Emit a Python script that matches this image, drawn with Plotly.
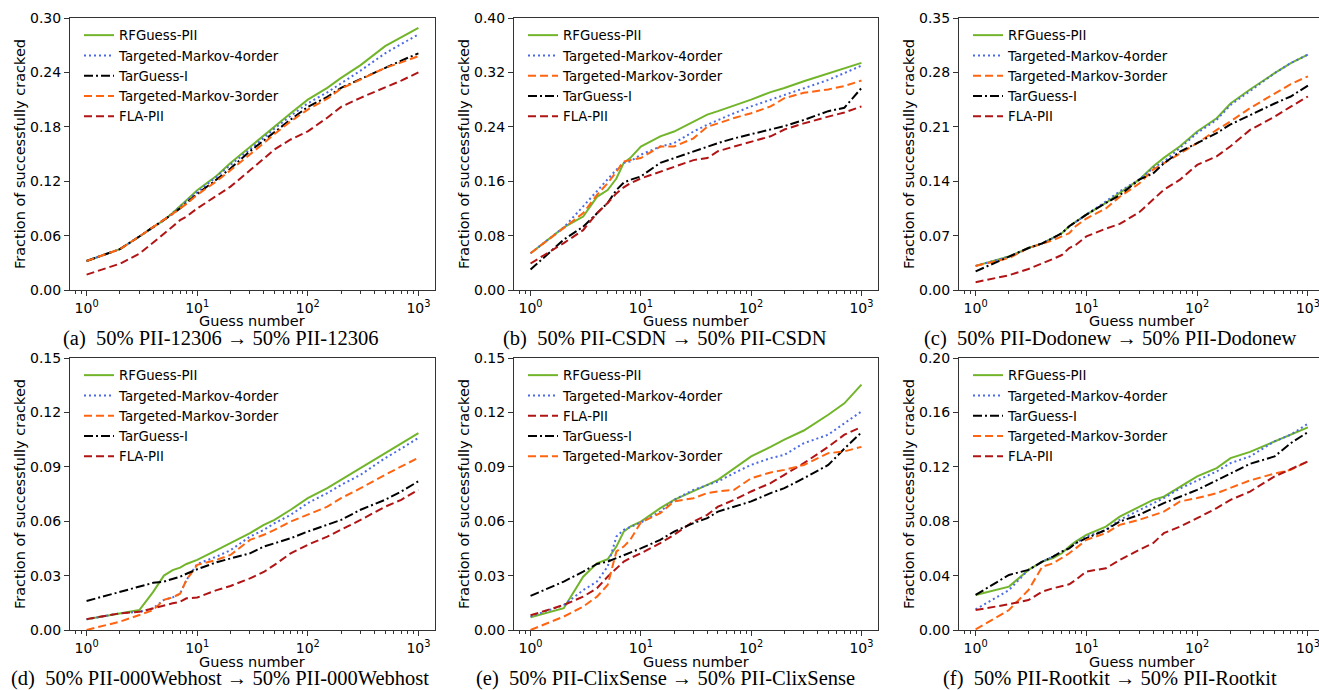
import plotly.graph_objects as go

W, H = 1319, 690

# Guess numbers (shared by all panels)
guess_numbers = [1, 2, 3, 4, 5, 6, 7, 8, 10, 15, 20, 30, 40, 50, 70, 100, 150, 200, 300, 500, 700, 1000]

# (a) PII-12306
a_rf  = [.032, .045, .059, .069, .077, .085, .092, .099, .110, .126, .140, .158, .170, .180, .195, .210, .223, .234, .248, .269, .279, .289]
a_tm4 = [.032, .045, .059, .069, .077, .085, .092, .098, .108, .125, .138, .155, .168, .178, .192, .206, .218, .228, .242, .261, .271, .282]
a_tg  = [.032, .045, .059, .069, .077, .084, .090, .096, .106, .122, .134, .153, .165, .175, .188, .202, .213, .223, .233, .245, .253, .261]
a_tm3 = [.032, .045, .059, .069, .077, .084, .090, .095, .105, .120, .132, .149, .162, .172, .186, .199, .211, .222, .232, .245, .251, .258]
a_fla = [.017, .029, .040, .052, .062, .070, .077, .081, .090, .104, .114, .132, .145, .155, .166, .175, .190, .202, .212, .223, .231, .240]

# (b) PII-CSDN
b_rf  = [.054, .092, .108, .137, .147, .164, .187, .194, .211, .226, .233, .248, .258, .263, .271, .280, .291, .297, .307, .318, .326, .334]
b_tm4 = [.054, .092, .123, .145, .162, .177, .187, .189, .199, .211, .216, .233, .243, .250, .260, .270, .280, .287, .297, .309, .319, .330]
b_tm3 = [.054, .092, .113, .140, .157, .174, .189, .191, .194, .211, .211, .223, .240, .245, .253, .260, .270, .282, .290, .295, .300, .308]
b_tg  = [.030, .074, .093, .113, .128, .147, .158, .162, .167, .187, .194, .204, .211, .216, .223, .229, .236, .241, .250, .263, .268, .297]
b_fla = [.039, .069, .088, .113, .128, .142, .151, .157, .164, .174, .182, .191, .194, .204, .211, .218, .226, .236, .245, .255, .261, .270]

# (c) PII-Dodonew
c_rf  = [.031, .043, .054, .060, .067, .073, .082, .088, .097, .112, .125, .142, .159, .170, .185, .204, .221, .240, .258, .279, .292, .303]
c_tm4 = [.031, .043, .054, .060, .067, .073, .082, .088, .097, .114, .127, .142, .157, .165, .183, .202, .219, .238, .256, .279, .292, .303]
c_tm3 = [.031, .041, .054, .060, .064, .069, .073, .082, .092, .105, .120, .137, .155, .163, .176, .189, .206, .217, .234, .253, .265, .275]
c_tg  = [.024, .043, .054, .060, .067, .073, .082, .088, .097, .112, .122, .142, .150, .163, .178, .189, .202, .213, .225, .240, .249, .263]
c_fla = [.010, .019, .027, .034, .040, .045, .054, .058, .069, .079, .085, .100, .116, .129, .142, .161, .172, .185, .206, .223, .236, .249]

# (d) PII-000Webhost
d_rf  = [.0059, .0092, .011, .021, .030, .033, .0344, .0364, .0387, .044, .0479, .0534, .058, .0607, .0663, .0727, .0782, .0828, .0893, .0975, .103, .1086]
d_tm4 = [.0059, .0092, .010, .012, .0166, .018, .020, .0276, .0364, .0405, .044, .0515, .0552, .0589, .0635, .070, .0755, .080, .0856, .0948, .100, .106]
d_tm3 = [.0, .0046, .0083, .011, .0166, .018, .020, .0276, .0359, .0387, .0414, .0497, .0525, .0552, .0598, .0635, .068, .0727, .0782, .0856, .090, .095]
d_tg  = [.016, .021, .024, .026, .0267, .028, .0294, .031, .0335, .0374, .0396, .0423, .046, .0479, .0506, .0543, .058, .0607, .0663, .0718, .0764, .082]
d_fla = [.006, .0092, .010, .012, .0138, .0147, .0156, .0175, .0179, .022, .0243, .0285, .032, .0359, .0423, .047, .0515, .0552, .0607, .068, .0718, .0773]

# (e) PII-ClixSense
e_rf  = [.007, .012, .0294, .0368, .039, .046, .0543, .057, .0598, .0672, .0718, .0764, .080, .0828, .0893, .0957, .101, .105, .110, .1187, .125, .1353]
e_tm4 = [.0074, .0138, .022, .0267, .035, .0515, .0552, .0567, .0593, .0653, .0718, .0773, .080, .0819, .0865, .0911, .0948, .0966, .103, .1077, .114, .1205]
e_fla = [.0081, .0138, .0184, .023, .0294, .034, .0377, .0396, .0423, .0479, .0525, .0598, .0635, .068, .0718, .0764, .081, .0856, .092, .101, .1077, .112]
e_tg  = [.0188, .0267, .0322, .0364, .0377, .0396, .0414, .0427, .045, .0497, .0543, .0589, .0617, .0653, .068, .0709, .0755, .0782, .0837, .091, .100, .109]
e_tm3 = [.0, .0074, .0129, .0184, .0248, .0433, .046, .0497, .0593, .0644, .0709, .0727, .0755, .0764, .0773, .0837, .0869, .0883, .091, .0975, .0985, .101]

# (f) PII-Rootkit
f_rf  = [.0258, .0319, .0442, .0503, .0528, .0564, .0613, .065, .070, .076, .0834, .0908, .0957, .098, .1055, .113, .119, .1264, .131, .1387, .1436, .149]
f_tm4 = [.0152, .0294, .0442, .0503, .054, .0577, .060, .0638, .0687, .0736, .081, .0883, .0933, .097, .104, .110, .1166, .1227, .1276, .1387, .1436, .1517]
f_tg  = [.0258, .0405, .0442, .0503, .054, .0577, .060, .0638, .0675, .0736, .0798, .0847, .0896, .0933, .098, .103, .110, .1153, .1222, .1276, .1374, .1455]
f_tm3 = [.0005, .0147, .0294, .0466, .049, .0528, .0564, .060, .0663, .0712, .0773, .081, .0847, .087, .0945, .097, .1006, .1043, .110, .115, .1178, .124]
f_fla = [.0147, .0189, .022, .0282, .0307, .0324, .0336, .0368, .043, .0454, .0515, .0589, .0638, .0712, .076, .0822, .0896, .0957, .1018, .1129, .118, .124]

y_maxes = [0.30, 0.40, 0.35, 0.15, 0.15, 0.20]
y_dticks = [0.06, 0.08, 0.07, 0.03, 0.03, 0.04]
x_tickvals = [1, 10, 100, 1000]
x_ticktext = ["10<sup>0</sup>", "10<sup>1</sup>", "10<sup>2</sup>", "10<sup>3</sup>"]
x_minor = [0.8, 0.9] + [m * 10 ** k for k in range(3) for m in range(2, 10)]
x_title = "Guess number"
y_title = "Fraction of successfully cracked"

captions = [
    "(a)\u00a0\u00a050% PII-12306 \u2192 50% PII-12306",
    "(b)\u00a0\u00a050% PII-CSDN \u2192 50% PII-CSDN",
    "(c)\u00a0\u00a050% PII-Dodonew \u2192 50% PII-Dodonew",
    "(d)\u00a0\u00a050% PII-000Webhost \u2192 50% PII-000Webhost",
    "(e)\u00a0\u00a050% PII-ClixSense \u2192 50% PII-ClixSense",
    "(f)\u00a0\u00a050% PII-Rootkit \u2192 50% PII-Rootkit",
]

STY = {
    "RFGuess-PII": dict(color="#72b52b", dash="solid"),
    "Targeted-Markov-4order": dict(color="#4b6be6", dash="2px,3px"),
    "TarGuess-I": dict(color="#000000", dash="9px,3px,2px,3px"),
    "Targeted-Markov-3order": dict(color="#ff6410", dash="8px,4px"),
    "FLA-PII": dict(color="#b01414", dash="8px,4px"),
}

panels = [
    [("RFGuess-PII", a_rf), ("Targeted-Markov-4order", a_tm4), ("TarGuess-I", a_tg), ("Targeted-Markov-3order", a_tm3), ("FLA-PII", a_fla)],
    [("RFGuess-PII", b_rf), ("Targeted-Markov-4order", b_tm4), ("Targeted-Markov-3order", b_tm3), ("TarGuess-I", b_tg), ("FLA-PII", b_fla)],
    [("RFGuess-PII", c_rf), ("Targeted-Markov-4order", c_tm4), ("Targeted-Markov-3order", c_tm3), ("TarGuess-I", c_tg), ("FLA-PII", c_fla)],
    [("RFGuess-PII", d_rf), ("Targeted-Markov-4order", d_tm4), ("Targeted-Markov-3order", d_tm3), ("TarGuess-I", d_tg), ("FLA-PII", d_fla)],
    [("RFGuess-PII", e_rf), ("Targeted-Markov-4order", e_tm4), ("FLA-PII", e_fla), ("TarGuess-I", e_tg), ("Targeted-Markov-3order", e_tm3)],
    [("RFGuess-PII", f_rf), ("Targeted-Markov-4order", f_tm4), ("TarGuess-I", f_tg), ("Targeted-Markov-3order", f_tm3), ("FLA-PII", f_fla)],
]

# layout geometry (pixels)
x_left = [70, 514, 959]
x_right = [435, 878, 1319]
x_range_hi = [3.15, 3.15, 3.10]
y_top = [18, 358]
y_bot = [290, 630]
cap_x = [220, 665, 1110]
xt_x = [252, 696, 1142]

fig = go.Figure()
layout = dict(
    width=W, height=H, margin=dict(l=0, r=0, t=0, b=0, autoexpand=False),
    paper_bgcolor="white", plot_bgcolor="white", showlegend=True,
    font=dict(family="DejaVu Sans", color="#000"),
)
annotations = []
axis_col = "#333333"
for i, series in enumerate(panels):
    r, c = divmod(i, 3)
    n = i + 1
    xa = "x" if n == 1 else f"x{n}"
    ya = "y" if n == 1 else f"y{n}"
    lg = "legend" if n == 1 else f"legend{n}"
    for name, vals in series:
        s = STY[name]
        fig.add_trace(go.Scatter(
            x=guess_numbers, y=vals, mode="lines", name=name,
            line=dict(color=s["color"], dash=s["dash"], width=2),
            xaxis=xa, yaxis=ya, legend=lg, hoverinfo="skip",
        ))
    dom_x = [x_left[c] / W, x_right[c] / W]
    dom_y = [1 - y_bot[r] / H, 1 - y_top[r] / H]
    xkey = "xaxis" if n == 1 else f"xaxis{n}"
    ykey = "yaxis" if n == 1 else f"yaxis{n}"
    layout[xkey] = dict(
        domain=dom_x, anchor=ya, type="log", range=[-0.15, x_range_hi[c]],
        tickvals=x_tickvals, ticktext=x_ticktext, ticks="outside", ticklen=5,
        tickcolor=axis_col, tickfont=dict(size=14), showgrid=False, zeroline=False,
        showline=True, mirror=True, linecolor=axis_col, linewidth=1, automargin=False,
        ticklabeloverflow="allow",
        minor=dict(tickvals=x_minor, ticks="outside", ticklen=3, tickcolor=axis_col, showgrid=False),
    )
    layout[ykey] = dict(
        domain=dom_y, anchor=xa, range=[0, y_maxes[i]], tick0=0, dtick=y_dticks[i],
        tickformat=".2f", ticks="outside", ticklen=5, tickcolor=axis_col,
        tickfont=dict(size=14), showgrid=False, zeroline=False, automargin=False,
        showline=True, mirror=True, linecolor=axis_col, linewidth=1,
        title=dict(text=y_title, font=dict(size=14.5), standoff=0),
    )
    layout[lg] = dict(
        x=(x_left[c] + 9) / W, y=1 - (y_top[r] + 2) / H, xanchor="left", yanchor="top",
        bgcolor="rgba(0,0,0,0)", borderwidth=0, font=dict(size=13.3), tracegroupgap=0,
    )
    annotations.append(dict(
        x=xt_x[c] / W, y=1 - (y_bot[r] + 31.5) / H, xref="paper", yref="paper",
        text=x_title, showarrow=False, xanchor="center", yanchor="middle",
        font=dict(family="DejaVu Sans", size=14.5, color="#000"),
    ))
    annotations.append(dict(
        x=cap_x[c] / W, y=1 - (y_bot[r] + 48) / H, xref="paper", yref="paper",
        text=captions[i], showarrow=False, xanchor="center", yanchor="middle",
        font=dict(family="Liberation Serif", size=20.5, color="#000"),
    ))
layout["annotations"] = annotations
fig.update_layout(**layout)
fig.write_html(
    "out.html",
    config={"displayModeBar": False},
    post_script="document.body.style.margin='0';document.body.style.padding='0';document.body.style.overflow='hidden';",
)
